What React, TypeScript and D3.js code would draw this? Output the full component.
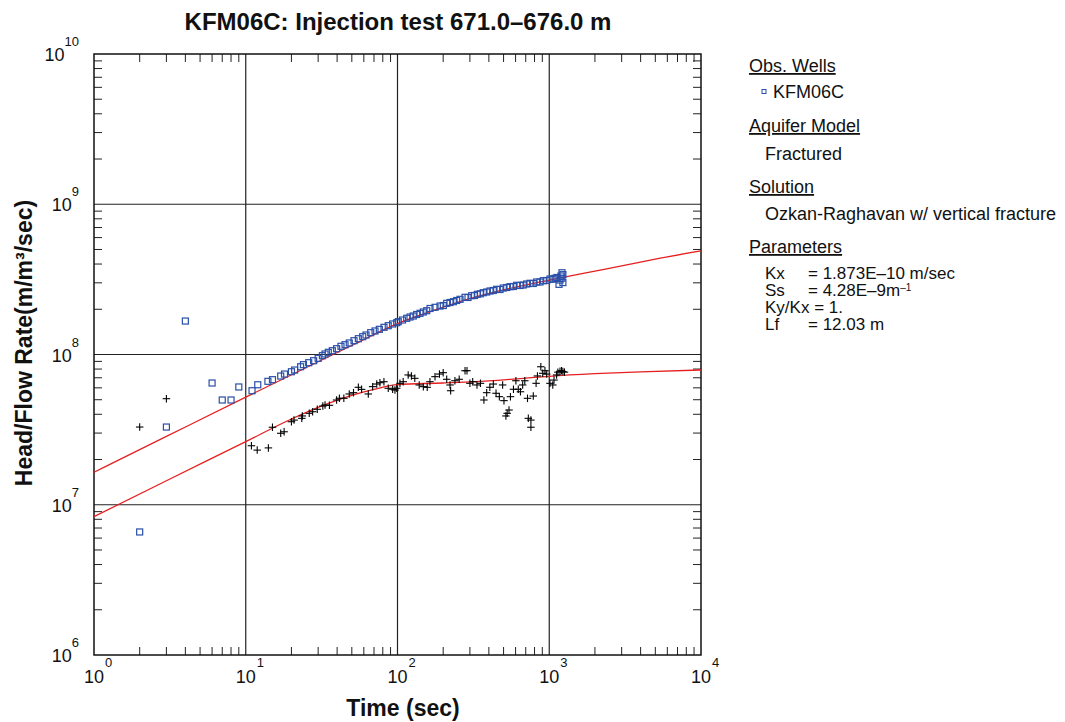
import React from "react";
import * as d3 from "d3";

// ---------- data ----------
const obsTime = [2, 3, 4, 6, 7, 8, 9, 11, 12, 14, 15, 17, 18, 20, 21, 23, 24, 26, 28, 30, 32, 33.3, 35, 37.2, 39.7, 42.4, 45.1, 48.1, 51.7, 55.2, 59, 62, 66.6, 71.1, 75.9, 81.5, 86.9, 92.9, 98.8,
  101.2, 107.9, 115, 120.9, 127, 133.8, 140.7, 147.9, 155.8, 163.8, 176.7, 190.6, 200.4, 211, 221.8, 233.4, 245.5, 258.2, 278.6, 291.5, 308.4, 321.7, 335.7, 351.2, 367.6, 387.1, 406.9, 427.9, 450.5, 473.7, 498.1, 524.4, 551.2, 579.7, 610.4, 641.8, 674.5, 710.2, 746.6, 785.1, 826.6, 869.4, 913.6, 962.1, 1011.6, 1058.5, 1091.4, 1125,
  1160, 1177, 1195, 1213, 1213, 1230, 1230];
const obsHead = [6.59e6, 3.29e7, 1.67e8, 6.46e7, 4.98e7, 4.98e7, 6.08e7, 5.74e7, 6.29e7, 6.63e7, 6.8e7, 7.19e7, 7.41e7, 7.68e7, 7.88e7, 8.29e7, 8.56e7, 8.82e7, 9.09e7, 9.43e7, 9.82e7, 1.008e8, 1.034e8, 1.06e8, 1.093e8, 1.134e8, 1.162e8, 1.193e8, 1.236e8, 1.274e8, 1.314e8, 1.348e8, 1.397e8, 1.434e8, 1.471e8, 1.517e8, 1.555e8, 1.596e8, 1.628e8,
  1.653e8, 1.696e8, 1.741e8, 1.776e8, 1.804e8, 1.846e8, 1.88e8, 1.918e8, 1.956e8, 2.024e8, 2.061e8, 2.102e8, 2.118e8, 2.191e8, 2.218e8, 2.246e8, 2.288e8, 2.33e8, 2.403e8, 2.396e8, 2.463e8, 2.47e8, 2.516e8, 2.535e8, 2.578e8, 2.606e8, 2.646e8, 2.667e8, 2.716e8, 2.707e8, 2.77e8, 2.792e8, 2.827e8, 2.835e8, 2.888e8, 2.879e8, 2.901e8, 2.946e8, 2.978e8, 2.969e8, 3.038e8, 3.038e8, 3.099e8, 3.108e8, 3.181e8, 3.171e8, 3.215e8, 3.255e8,
  2.93e8, 3.13e8, 3.33e8, 3.5e8, 3.22e8, 3.01e8, 3.4e8];

const derivTime = [2, 3, 10.9, 11.9, 14.1, 15, 17, 17.9, 20, 20.8, 23.4, 23.6, 26.2, 27.6, 29.6, 32.2, 33.3, 35.6, 39.7, 41.4, 44.3, 48.1, 51.3, 55.2, 58, 64.2, 68.6, 73, 76.6, 81.4, 86.9, 92.9, 98.8,
  96.2, 103.8, 109, 117.6, 123.5, 130, 139, 148, 157, 163.6, 176.7, 189, 200, 211, 221.8, 224, 239, 255, 278.6, 287, 300, 313, 334, 352, 371, 387, 406, 428, 446, 469, 493, 503, 528, 543, 518, 555, 581, 603, 625, 646, 668, 690, 719, 728, 757, 757, 785, 819, 836, 880, 906, 937, 962, 1011, 1055, 1075, 1118, 1140, 1177, 1205, 1230, 1260];
const derivValue = [3.29e7, 5.08e7, 2.47e7, 2.31e7, 2.39e7, 3.28e7, 2.99e7, 3.06e7, 3.57e7, 3.66e7, 3.76e7, 3.9e7, 4.06e7, 4.16e7, 4.32e7, 4.54e7, 4.61e7, 4.59e7, 4.98e7, 5.11e7, 5.11e7, 5.46e7, 5.57e7, 6.05e7, 5.86e7, 5.46e7, 6.11e7, 6.36e7, 6.49e7, 6.59e7, 5.96e7, 5.87e7, 5.96e7,
  5.8e7, 6.43e7, 6.59e7, 7.31e7, 7.2e7, 6.94e7, 6.27e7, 6.11e7, 6.05e7, 6.59e7, 7.12e7, 7.41e7, 7.57e7, 6.84e7, 6.27e7, 5.74e7, 6.69e7, 6.84e7, 7.8e7, 7.8e7, 6.43e7, 6.59e7, 6.27e7, 6.43e7, 4.98e7, 5.57e7, 6.05e7, 6.36e7, 5.52e7, 5.24e7, 6.27e7, 4.93e7, 4.06e7, 4.27e7, 3.9e7, 5.24e7, 5.87e7, 6.69e7, 5.87e7, 5.65e7, 6.27e7, 6.69e7, 5.11e7, 3.76e7, 3.66e7, 3.28e7, 5.29e7, 6.43e7, 7.2e7, 8.29e7, 7.5e7, 7.8e7, 7.41e7, 6.43e7, 6.27e7, 6.76e7, 7.31e7, 7.63e7, 7.75e7, 7.8e7, 7.7e7, 7.63e7];

const modelTime = [1, 3, 10, 30, 50, 100, 200, 300, 500, 1000, 2000, 3000, 5000, 10000];
const modelHead = [1.645e7, 2.85e7, 5.2e7, 8.95e7, 1.148e8, 1.603e8, 2.065e8, 2.355e8, 2.69e8, 3.126e8, 3.59e8, 3.89e8, 4.315e8, 4.89e8];

const modelDerivTime = [1, 3, 10, 20, 30, 50, 70, 100, 200, 400, 700, 1000, 2000, 4000, 10000];
const modelDeriv = [8.33e6, 1.445e7, 2.63e7, 3.72e7, 4.45e7, 5.35e7, 5.86e7, 6.31e7, 6.46e7, 6.68e7, 6.97e7, 7.16e7, 7.45e7, 7.67e7, 7.89e7];

const xDecades = [0, 1, 2, 3, 4];
const yDecades = [6, 7, 8, 9, 10];

const legendParams = [
  { name: "Kx", value: "= 1.873E\u201310 m/sec" },
  { name: "Ss", value: "= 4.28E\u20139m", sup: "\u20131" },
  { name: "Ky/Kx", value: "= 1." },
  { name: "Lf", value: "= 12.03 m" },
];

// ---------- layout ----------
const W = 1065, H = 722;
const L = 94, R = 701, T = 54, B = 655;
const FONT = "'Liberation Sans', Arial, sans-serif";
const BLUE = "#2a4fa8";
const RED = "#e62020";

export default function App() {
  const x = d3.scaleLog().domain([1, 1e4]).range([L, R]);
  const y = d3.scaleLog().domain([1e6, 1e10]).range([B, T]);

  const minorX: number[] = [];
  for (let d = 0; d < 4; d++) for (let m = 2; m <= 9; m++) minorX.push(m * Math.pow(10, d));
  const minorY: number[] = [];
  for (let d = 6; d < 10; d++) for (let m = 2; m <= 9; m++) minorY.push(m * Math.pow(10, d));

  const line = d3
    .line<[number, number]>()
    .x((d) => x(d[0]))
    .y((d) => y(d[1]))
    .curve(d3.curveMonotoneX);

  const headPath = line(modelTime.map((t, i) => [t, modelHead[i]]) as [number, number][]) || "";
  const derivPath = line(modelDerivTime.map((t, i) => [t, modelDeriv[i]]) as [number, number][]) || "";

  const tick = 8;

  return (
    <svg width={W} height={H} style={{ position: "absolute", left: 0, top: 0, background: "#fff" }} fontFamily={FONT}>
      <rect x={0} y={0} width={W} height={H} fill="#fff" />
      {/* gridlines */}
      {xDecades.slice(1, -1).map((d) => (
        <line key={"gx" + d} x1={x(Math.pow(10, d))} x2={x(Math.pow(10, d))} y1={T} y2={B} stroke="#222" strokeWidth={1.2} />
      ))}
      {yDecades.slice(1, -1).map((d) => (
        <line key={"gy" + d} x1={L} x2={R} y1={y(Math.pow(10, d))} y2={y(Math.pow(10, d))} stroke="#222" strokeWidth={1.2} />
      ))}
      {/* minor ticks */}
      {minorX.map((v, i) => (
        <g key={"mx" + i} stroke="#222" strokeWidth={1}>
          <line x1={x(v)} x2={x(v)} y1={B} y2={B - tick} />
          <line x1={x(v)} x2={x(v)} y1={T} y2={T + tick} />
        </g>
      ))}
      {minorY.map((v, i) => (
        <g key={"my" + i} stroke="#222" strokeWidth={1}>
          <line x1={L} x2={L + tick} y1={y(v)} y2={y(v)} />
          <line x1={R} x2={R - tick} y1={y(v)} y2={y(v)} />
        </g>
      ))}
      {/* frame */}
      <rect x={L} y={T} width={R - L} height={B - T} fill="none" stroke="#111" strokeWidth={1.5} />

      {/* model curves */}
      <path d={headPath} fill="none" stroke={RED} strokeWidth={1.3} />
      <path d={derivPath} fill="none" stroke={RED} strokeWidth={1.3} />

      {/* observed */}
      {obsTime.map((t, i) => (
        <rect key={"o" + i} x={x(t) - 3} y={y(obsHead[i]) - 3} width={6} height={6} fill="none" stroke={BLUE} strokeWidth={1.2} />
      ))}
      {derivTime.map((t, i) => {
        const cx = x(t), cy = y(derivValue[i]);
        return (
          <g key={"d" + i} stroke="#000" strokeWidth={1.1}>
            <line x1={cx - 3.75} x2={cx + 3.75} y1={cy} y2={cy} />
            <line x1={cx} x2={cx} y1={cy - 3.75} y2={cy + 3.75} />
          </g>
        );
      })}

      {/* x tick labels */}
      {xDecades.map((d) => (
        <g key={"xl" + d}>
          <text x={x(Math.pow(10, d))} y={683} fontSize={18} textAnchor="middle" fill="#111">10</text>
          <text x={x(Math.pow(10, d)) + 11} y={667} fontSize={13} fill="#111">{d}</text>
        </g>
      ))}
      {/* y tick labels */}
      {yDecades.map((d) => (
        <text key={"yl" + d} x={79} y={y(Math.pow(10, d)) + 7} fontSize={18} textAnchor="end" fill="#111">
          10<tspan dy={-15} fontSize={13}>{d}</tspan>
        </text>
      ))}

      {/* titles */}
      <text x={398} y={30} fontSize={24} fontWeight="bold" textAnchor="middle" fill="#111">
        KFM06C: Injection test 671.0–676.0 m
      </text>
      <text x={403} y={716} fontSize={23} fontWeight="bold" textAnchor="middle" fill="#111">
        Time (sec)
      </text>
      <text transform="translate(32,343) rotate(-90)" fontSize={23} fontWeight="bold" textAnchor="middle" fill="#111">
        Head/Flow Rate(m/m³/sec)
      </text>

      {/* legend */}
      <g fontSize={18} fill="#111">
        <text x={749} y={72} textDecoration="underline">Obs. Wells</text>
        <rect x={762} y={89.5} width={4} height={4} fill="none" stroke={BLUE} strokeWidth={1} />
        <text x={773} y={98}>KFM06C</text>
        <text x={749} y={132} textDecoration="underline">Aquifer Model</text>
        <text x={765} y={160}>Fractured</text>
        <text x={749} y={193} textDecoration="underline">Solution</text>
        <text x={765} y={220}>Ozkan-Raghavan w/ vertical fracture</text>
        <text x={749} y={253} textDecoration="underline">Parameters</text>
      </g>
      <g fontSize={17} fill="#111">
        {legendParams.map((p, i) => (
          <g key={"p" + i}>
            <text x={765} y={279 + i * 17}>
              {p.name === "Ky/Kx" ? (
                <>{p.name} {p.value}</>
              ) : (
                p.name
              )}
            </text>
            {p.name !== "Ky/Kx" && (
              <text x={808} y={279 + i * 17}>
                {p.value}
                {p.sup && (
                  <tspan dy={-5} fontSize={10}>{p.sup}</tspan>
                )}
              </text>
            )}
          </g>
        ))}
      </g>
    </svg>
  );
}
